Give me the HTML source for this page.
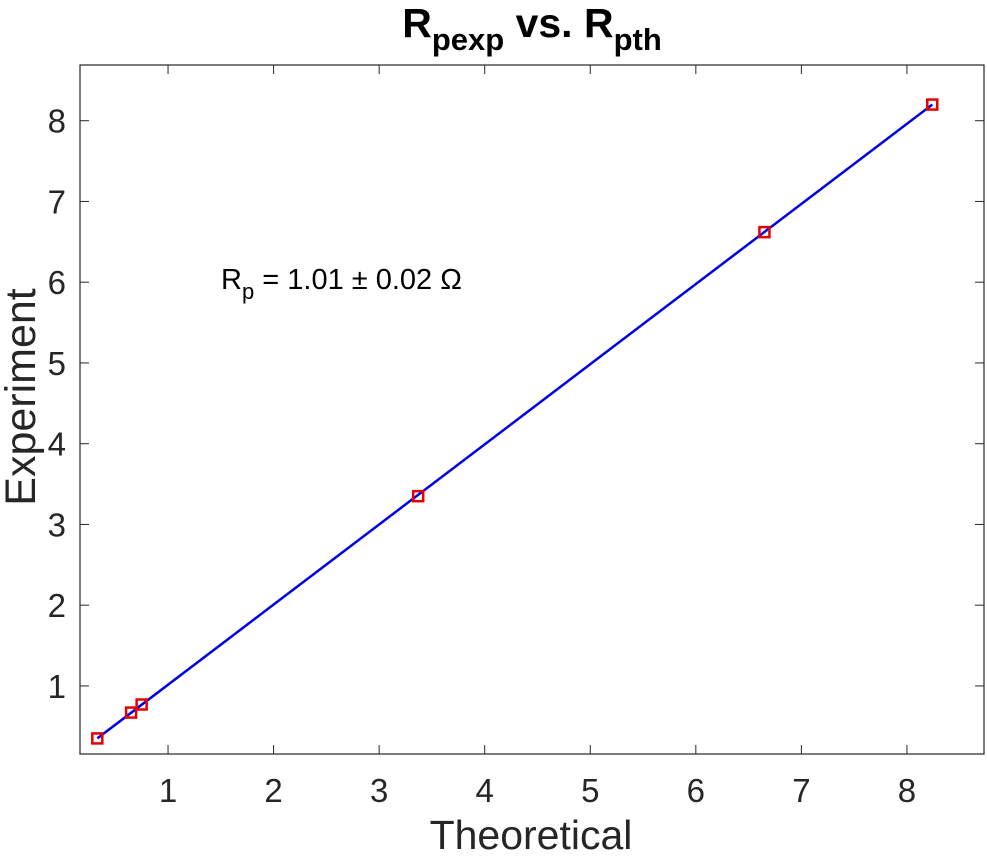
<!DOCTYPE html><html><head><style>body{margin:0;background:#fff}svg text{font-family:"Liberation Sans",sans-serif}</style></head><body>
<svg id="c" width="987" height="855"></svg>
<script>
const xVals=[0.33,0.65,0.75,3.37,6.65,8.24];
const yVals=[0.35,0.67,0.77,3.35,6.62,8.20];
const xTicks=[1,2,3,4,5,6,7,8];
const yTicks=[1,2,3,4,5,6,7,8];
const L=80,R=984,T=65,B=754,x0=0.166,x1=8.73,y0=0.157,y1=8.69;
const sx=v=>L+(v-x0)/(x1-x0)*(R-L), sy=v=>B-(v-y0)/(y1-y0)*(B-T);
const s=document.getElementById('c');const NS='http://www.w3.org/2000/svg';
function mk(t,a,p){const e=document.createElementNS(NS,t);for(const k in a)e.setAttribute(k,a[k]);(p||s).appendChild(e);return e;}
let e=mk('rect',{x:L,y:T,width:R-L,height:B-T,fill:'none',stroke:'#262626','stroke-width':1.2});


xTicks.forEach(v=>{const x=sx(v);
mk('line',{x1:x,x2:x,y1:B,y2:B-9,stroke:'#262626'});mk('line',{x1:x,x2:x,y1:T,y2:T+9,stroke:'#262626'});
const t=mk('text',{x:x,y:B+48,'text-anchor':'middle','font-size':33,fill:'#262626'});t.textContent=v;

});
yTicks.forEach(v=>{const y=sy(v);
mk('line',{x1:L,x2:L+9,y1:y,y2:y,stroke:'#262626'});mk('line',{x1:R,x2:R-9,y1:y,y2:y,stroke:'#262626'});
const t=mk('text',{x:L-14,y:y+12,'text-anchor':'end','font-size':33,fill:'#262626'});t.textContent=v;

});
const n=xVals.length-1;
e=mk('line',{x1:sx(xVals[0]),y1:sy(yVals[0]),x2:sx(xVals[n]),y2:sy(yVals[n]),stroke:'#0000e6','stroke-width':2.5});


xVals.forEach((v,i)=>{const r=mk('rect',{x:sx(v)-5,y:sy(yVals[i])-5,width:10,height:10,fill:'none',stroke:'#e60000','stroke-width':2.5});

});
</script>
<svg width="987" height="855" style="position:absolute;left:0;top:0">
<text x="532" y="37" text-anchor="middle" font-size="41" font-weight="bold" fill="#000">R<tspan font-size="31" dy="13">pexp</tspan><tspan dy="-13"> vs. R</tspan><tspan font-size="31" dy="13">pth</tspan></text>
<text x="531" y="849" text-anchor="middle" font-size="41" fill="#262626">Theoretical</text>
<text transform="translate(35,397) rotate(-90)" text-anchor="middle" font-size="43" fill="#262626">Experiment</text>
<text x="221" y="289" font-size="29" fill="#000">R<tspan font-size="22" dy="10">p</tspan><tspan dy="-10"> = 1.01 ± 0.02 Ω</tspan></text>
</svg>
</body></html>
